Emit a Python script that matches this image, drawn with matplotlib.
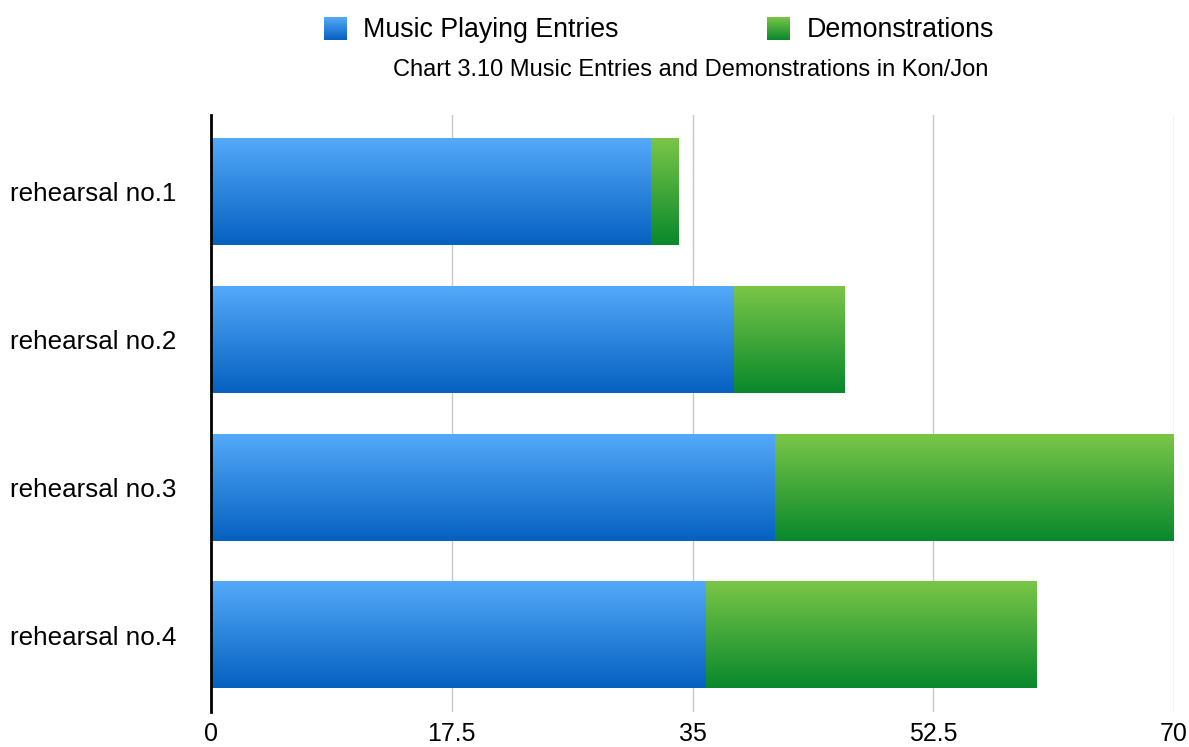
import numpy as np
from matplotlib import pyplot as plt
from matplotlib.colors import LinearSegmentedColormap

plt.rcParams['font.family'] = ['Liberation Sans', 'DejaVu Sans']

categories = ['rehearsal no.1', 'rehearsal no.2', 'rehearsal no.3', 'rehearsal no.4']
music_entries = [32, 38, 41, 36]
demonstrations = [2, 8, 29, 24]
x_ticks = [0, 17.5, 35, 52.5, 70]
x_labels = ['0', '17.5', '35', '52.5', '70']
series_names = ['Music Playing Entries', 'Demonstrations']

blue_cmap = LinearSegmentedColormap.from_list('blue', ['#0560c0', '#54aaf9'])
green_cmap = LinearSegmentedColormap.from_list('green', ['#08882c', '#7ac647'])

fig = plt.figure(figsize=(11.89, 7.47), dpi=100)
ax = fig.add_axes([0.1775, 0.047, 0.81, 0.799])

grad = np.linspace(0, 1, 256).reshape(-1, 1)
bar_h = 0.72


def gradient_bar(y, left, width, cmap):
    # light on top, dark at the bottom
    ax.imshow(grad, cmap=cmap, origin='lower', aspect='auto',
              extent=[left, left + width, y + bar_h / 2, y - bar_h / 2],
              interpolation='bilinear', zorder=3)


ypos = np.arange(len(categories))
for i in ypos:
    gradient_bar(i, 0, music_entries[i], blue_cmap)
    gradient_bar(i, music_entries[i], demonstrations[i], green_cmap)

ax.set_xlim(0, 70)
ax.set_ylim(len(categories) - 0.48, -0.52)
ax.set_yticks(ypos)
ax.set_yticklabels(categories, fontsize=18.7, ha='left')
ax.set_xticks(x_ticks)
ax.set_xticklabels(x_labels, fontsize=18)
ax.tick_params(axis='both', length=0)
ax.tick_params(axis='x', pad=7)
ax.tick_params(axis='y', pad=145)

ax.grid(axis='x', color='#c8c8c8', linewidth=1, zorder=0)
ax.set_axisbelow(True)
for s in ['top', 'right', 'bottom']:
    ax.spines[s].set_visible(False)
ax.spines['left'].set_linewidth(2)
ax.spines['left'].set_color('black')
ax.spines['left'].set_zorder(5)

# legend with gradient squares
legend_items = [(0.2725, 0.3053, blue_cmap), (0.6451, 0.6787, green_cmap)]
for (sq_x, txt_x, cmap), name in zip(legend_items, series_names):
    sq = fig.add_axes([sq_x, 1 - 40 / 747, 23 / 1189, 23 / 747])
    sq.imshow(grad, cmap=cmap, origin='lower', aspect='auto', interpolation='bilinear')
    sq.axis('off')
    fig.text(txt_x, 1 - 30 / 747, name, fontsize=19.3, ha='left', va='center')

fig.text(0.5807, 1 - 70 / 747, 'Chart 3.10 Music Entries and Demonstrations in Kon/Jon',
         fontsize=17, ha='center', va='center')

plt.savefig('out.png')
